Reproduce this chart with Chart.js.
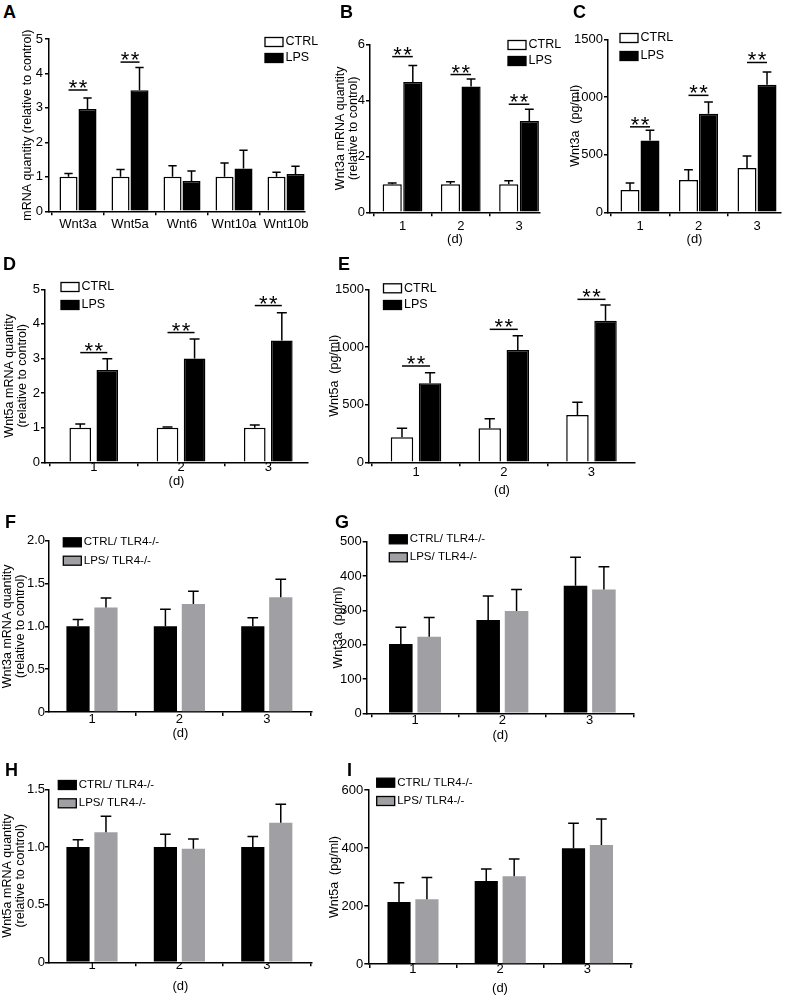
<!DOCTYPE html>
<html>
<head>
<meta charset="utf-8">
<title>Wnt3a / Wnt5a after LPS</title>
<script src="https://cdn.jsdelivr.net/npm/chart.js@4.4.1/dist/chart.umd.min.js"></script>
<style>
  html, body { margin: 0; padding: 0; background: #fff; }
  #fig { position: relative; width: 787px; height: 995px; overflow: hidden; background: #fff; }
  #fig canvas { position: absolute; }
  .panel-letter { position: absolute; font: bold 18px/18px "Liberation Sans", Arial, sans-serif; color: #000; }
</style>
</head>
<body>
<div id="fig"></div>
<script>
// values (mean and upper SEM)
const genes = ['Wnt3a', 'Wnt5a', 'Wnt6', 'Wnt10a', 'Wnt10b'];
const days = ['1', '2', '3'];
const wtNames = ['CTRL', 'LPS'];
const koNames = ['CTRL/ TLR4-/-', 'LPS/ TLR4-/-'];

// A - mRNA of several Wnts
const aCtrl = [1.0, 1.0, 1.0, 1.0, 1.0];
const aCtrlErr = [0.10, 0.21, 0.32, 0.40, 0.13];
const aLps = [2.97, 3.51, 0.88, 1.24, 1.08];
const aLpsErr = [0.32, 0.66, 0.29, 0.53, 0.23];
const aSig = [3.52, 4.33, null, null, null];

// B - Wnt3a mRNA by day
const bCtrl = [1.0, 1.0, 1.0];
const bCtrlErr = [0.05, 0.09, 0.13];
const bLps = [4.65, 4.49, 3.26];
const bLpsErr = [0.59, 0.27, 0.42];
const bSig = [5.56, 4.92, 3.86];

// C - Wnt3a protein (pg/ml)
const cCtrl = [194, 279, 384];
const cCtrlErr = [59, 90, 104];
const cLps = [622, 854, 1107];
const cLpsErr = [89, 102, 110];
const cSig = [741, 1014, 1299];

// D - Wnt5a mRNA by day
const dCtrl = [1.0, 1.0, 1.0];
const dCtrlErr = [0.11, 0.02, 0.08];
const dLps = [2.67, 3.0, 3.52];
const dLpsErr = [0.32, 0.56, 0.80];
const dSig = [3.17, 3.75, 4.53];

// E - Wnt5a protein (pg/ml)
const eCtrl = [217, 295, 410];
const eCtrlErr = [78, 83, 110];
const eLps = [685, 974, 1228];
const eLpsErr = [92, 124, 136];
const eSig = [835, 1153, 1413];

// F - Wnt3a mRNA, TLR4-/-
const fCtrl = [1.0, 1.0, 1.0];
const fCtrlErr = [0.08, 0.20, 0.10];
const fLps = [1.22, 1.26, 1.34];
const fLpsErr = [0.11, 0.15, 0.21];

// G - Wnt3a protein, TLR4-/-
const gCtrl = [202, 272, 372];
const gCtrlErr = [49, 70, 83];
const gLps = [223, 298, 361];
const gLpsErr = [56, 63, 66];

// H - Wnt5a mRNA, TLR4-/-
const hCtrl = [1.0, 1.0, 1.0];
const hCtrlErr = [0.063, 0.11, 0.09];
const hLps = [1.127, 0.985, 1.21];
const hLpsErr = [0.14, 0.085, 0.16];

// I - Wnt5a protein, TLR4-/-
const iCtrl = [214, 286, 399];
const iCtrlErr = [66, 42, 86];
const iLps = [223, 303, 410];
const iLpsErr = [75, 59, 90];

Chart.defaults.font.family = '"Liberation Sans", Arial, Helvetica, sans-serif';
Chart.defaults.color = '#000';

const wtStyle = [
    {bg: '#ffffff', line: '#000000', bw: 1.5},
    {bg: '#000000', line: '#000000', bw: 1.5}
];
const koStyle = [
    {bg: '#000000', line: '#000000', bw: 0},
    {bg: '#a0a0a4', line: '#a0a0a4', bw: 0}
];

const plain = v => String(v);
const oneDec = v => v === 0 ? '0' : v.toFixed(1);
const mrna3 = ['Wnt3a mRNA quantity', '(relative to control)'];
const mrna5 = ['Wnt5a mRNA quantity', '(relative to control)'];

// geometry is in page pixels: y axis at x0, x axis end x1, top tick yTop, zero line y0
const panels = [
    {letter: 'A', lx: 3, ly: 5, cats: genes, names: wtNames, style: wtStyle,
     vals: [aCtrl, aLps], errs: [aCtrlErr, aLpsErr], sig: aSig,
     yTitle: 'mRNA quantity (relative to control)', xTitle: '', yMax: 5, yStep: 1, fmt: plain,
     geo: {x0: 49, x1: 305, yTop: 39, y0: 211.3, xMin: 0.442, xMax: 5.365, cat: 0.73, bar: 0.95,
           yw: 28.5, xh: 30, tickPad: 1.2, yPad: 2, padR: 30},
     legend: {x: 265, y: 42, gap: 16, size: 12.5}},
    {letter: 'B', lx: 340, ly: 5, cats: days, names: wtNames, style: wtStyle,
     vals: [bCtrl, bLps], errs: [bCtrlErr, bLpsErr], sig: bSig,
     yTitle: mrna3, xTitle: '(d)', yMax: 6, yStep: 2, fmt: plain,
     geo: {x0: 370, x1: 540, yTop: 44.3, y0: 212.3, xMin: 0.442, xMax: 3.36, cat: 0.707, bar: 0.93,
           yw: 36.25, xh: 33.2, tickPad: 2.6, yPad: 1, padR: 30},
     legend: {x: 508, y: 45, gap: 16, size: 12.5}},
    {letter: 'C', lx: 573, ly: 5, cats: days, names: wtNames, style: wtStyle,
     vals: [cCtrl, cLps], errs: [cCtrlErr, cLpsErr], sig: cSig,
     yTitle: 'Wnt3a  (pg/ml)', xTitle: '(d)', yMax: 1500, yStep: 500, fmt: plain,
     geo: {x0: 608, x1: 781, yTop: 39.3, y0: 212.3, xMin: 0.453, xMax: 3.41, cat: 0.684, bar: 0.95,
           yw: 39.5, xh: 33.2, tickPad: 2.6, yPad: 1, padR: 5},
     legend: {x: 620, y: 38, gap: 18, size: 12.5}},
    {letter: 'D', lx: 3, ly: 257.5, cats: days, names: wtNames, style: wtStyle,
     vals: [dCtrl, dLps], errs: [dCtrlErr, dLpsErr], sig: dSig,
     yTitle: mrna5, xTitle: '(d)', yMax: 5, yStep: 1, fmt: plain,
     geo: {x0: 45, x1: 308, yTop: 289.3, y0: 462.3, xMin: 0.441, xMax: 3.455, cat: 0.62, bar: 0.8,
           yw: 42.3, xh: 25.2, tickPad: -6.6, yPad: 1, padR: 10},
     legend: {x: 61, y: 287, gap: 18, size: 12.5}},
    {letter: 'E', lx: 338, ly: 257.5, cats: days, names: wtNames, style: wtStyle,
     vals: [eCtrl, eLps], errs: [eCtrlErr, eLpsErr], sig: eSig,
     yTitle: 'Wnt5a  (pg/ml)', xTitle: '(d)', yMax: 1500, yStep: 500, fmt: plain,
     geo: {x0: 369, x1: 635, yTop: 289.3, y0: 462.3, xMin: 0.464, xMax: 3.496, cat: 0.64, bar: 0.8,
           yw: 41.5, xh: 34.2, tickPad: -1.6, yPad: 1, padR: 10},
     legend: {x: 383.5, y: 288.3, gap: 16.7, size: 12.5}},
    {letter: 'F', lx: 5, ly: 515, cats: days, names: koNames, style: koStyle,
     vals: [fCtrl, fLps], errs: [fCtrlErr, fLpsErr], sig: null,
     yTitle: mrna3, xTitle: '(d)', yMax: 2, yStep: 0.5, fmt: oneDec,
     geo: {x0: 49, x1: 311.7, yTop: 540.7, y0: 712, xMin: 0.508, xMax: 3.514, cat: 0.64, bar: 0.83,
           yw: 47.7, xh: 27.5, tickPad: -4.8, yPad: 0, padR: 10},
     legend: {x: 63.3, y: 542.3, gap: 18.4, size: 11.5}},
    {letter: 'G', lx: 335, ly: 515, cats: days, names: koNames, style: koStyle,
     vals: [gCtrl, gLps], errs: [gCtrlErr, gLpsErr], sig: null,
     yTitle: 'Wnt3a  (pg/ml)', xTitle: '(d)', yMax: 500, yStep: 100, fmt: plain,
     geo: {x0: 366.7, x1: 634, yTop: 541.7, y0: 713.3, xMin: 0.447, xMax: 3.507, cat: 0.65, bar: 0.83,
           yw: 35.2, xh: 28.2, tickPad: -5.1, yPad: 1, padR: 10},
     legend: {x: 389.3, y: 539.3, gap: 18, size: 11.5}},
    {letter: 'H', lx: 5, ly: 763, cats: days, names: koNames, style: koStyle,
     vals: [hCtrl, hLps], errs: [hCtrlErr, hLpsErr], sig: null,
     yTitle: mrna5, xTitle: '(d)', yMax: 1.5, yStep: 0.5, fmt: oneDec,
     geo: {x0: 49, x1: 311.7, yTop: 789.3, y0: 962.3, xMin: 0.508, xMax: 3.514, cat: 0.64, bar: 0.83,
           yw: 48.5, xh: 30.9, tickPad: -9.1, yPad: 0, padR: 10},
     legend: {x: 58.3, y: 785, gap: 18.3, size: 11.5}},
    {letter: 'I', lx: 347, ly: 763, cats: days, names: koNames, style: koStyle,
     vals: [iCtrl, iLps], errs: [iCtrlErr, iLpsErr], sig: null,
     yTitle: 'Wnt5a  (pg/ml)', xTitle: '(d)', yMax: 600, yStep: 200, fmt: plain,
     geo: {x0: 368.3, x1: 631.7, yTop: 790, y0: 964, xMin: 0.488, xMax: 3.507, cat: 0.64, bar: 0.83,
           yw: 40.8, xh: 30.8, tickPad: -6.8, yPad: 1, padR: 10},
     legend: {x: 376.7, y: 782.7, gap: 18.3, size: 11.5}}
];

// upward-only error bars, GraphPad style
const errorBars = {
    id: 'errorBars',
    afterDatasetsDraw(chart) {
        const ctx = chart.ctx;
        const y = chart.scales.y;
        ctx.save();
        ctx.strokeStyle = '#000';
        ctx.lineWidth = 1.5;
        chart.data.datasets.forEach((ds, k) => {
            chart.getDatasetMeta(k).data.forEach((bar, i) => {
                const top = y.getPixelForValue(ds.data[i].y + ds.errs[i]);
                const half = bar.width * 0.23;
                ctx.beginPath();
                ctx.moveTo(bar.x, bar.y);
                ctx.lineTo(bar.x, top);
                ctx.moveTo(bar.x - half, top);
                ctx.lineTo(bar.x + half, top);
                ctx.stroke();
            });
        });
        ctx.restore();
    }
};

// "**" over a line joining the two bars of a group
const sigBars = {
    id: 'sigBars',
    afterDatasetsDraw(chart, args, opts) {
        if (!opts.levels) return;
        const ctx = chart.ctx;
        const y = chart.scales.y;
        const a = chart.getDatasetMeta(0).data;
        const b = chart.getDatasetMeta(1).data;
        ctx.save();
        ctx.strokeStyle = '#000';
        ctx.fillStyle = '#000';
        ctx.lineWidth = 1.5;
        ctx.font = '22px "Liberation Sans", Arial, sans-serif';
        ctx.textAlign = 'center';
        ctx.textBaseline = 'alphabetic';
        opts.levels.forEach((lv, i) => {
            if (lv == null) return;
            const py = y.getPixelForValue(lv);
            ctx.beginPath();
            ctx.moveTo(a[i].x, py);
            ctx.lineTo(b[i].x, py);
            ctx.stroke();
            const cx = (a[i].x + b[i].x) / 2;
            ctx.fillText('*', cx - 5, py + 5);
            ctx.fillText('*', cx + 5, py + 5);
        });
        ctx.restore();
    }
};

// small box legend placed freely
const boxLegend = {
    id: 'boxLegend',
    afterDraw(chart, args, o) {
        const ctx = chart.ctx;
        ctx.save();
        ctx.font = o.size + 'px "Liberation Sans", Arial, sans-serif';
        ctx.textBaseline = 'middle';
        ctx.textAlign = 'left';
        chart.data.datasets.forEach((ds, k) => {
            const cy = o.y + k * o.gap;
            ctx.fillStyle = ds.backgroundColor;
            ctx.fillRect(o.x, cy - 4.5, 18, 9);
            ctx.strokeStyle = '#000';
            ctx.lineWidth = 1.3;
            ctx.strokeRect(o.x, cy - 4.5, 18, 9);
            ctx.fillStyle = '#000';
            ctx.fillText(ds.label, o.x + 20.5, cy);
        });
        ctx.restore();
    }
};

const fig = document.getElementById('fig');

build_panel = function (p) {
    const g = p.geo;
    const padTop = 26;
    const left = Math.round(g.x0 - g.yw);
    const top = Math.round(g.yTop - padTop);
    const yw = g.x0 - left;
    const pt = g.yTop - top;
    const plotW = g.x1 - g.x0;
    const plotH = g.y0 - g.yTop;
    const w = Math.ceil(yw + plotW + g.padR);
    const h = Math.ceil(pt + plotH + g.xh);

    const cv = document.createElement('canvas');
    cv.width = w;
    cv.height = h;
    cv.style.left = left + 'px';
    cv.style.top = top + 'px';
    fig.appendChild(cv);

    new Chart(cv, {
        type: 'bar',
        data: {
            datasets: p.vals.map((v, k) => ({
                label: p.names[k],
                data: v.map((val, i) => ({x: i + 1, y: val})),
                errs: p.errs[k],
                backgroundColor: p.style[k].bg,
                borderColor: p.style[k].line,
                borderWidth: p.style[k].bw,
                borderSkipped: 'start',
                categoryPercentage: g.cat,
                barPercentage: g.bar
            }))
        },
        options: {
            responsive: false,
            animation: false,
            devicePixelRatio: 1,
            events: [],
            layout: {padding: {left: 0, top: pt, right: w - yw - plotW, bottom: h - pt - plotH - g.xh}},
            plugins: {
                legend: {display: false},
                tooltip: {enabled: false},
                sigBars: {levels: p.sig},
                boxLegend: {x: p.legend.x - left, y: p.legend.y - top, gap: p.legend.gap, size: p.legend.size}
            },
            scales: {
                x: {
                    type: 'linear',
                    min: g.xMin,
                    max: g.xMax,
                    offset: false,
                    afterBuildTicks: s => { s.ticks = p.cats.map((c, i) => ({value: i + 1})); },
                    afterFit: s => { s.height = g.xh; },
                    grid: {drawOnChartArea: false, drawTicks: true, tickLength: 4, color: '#000', lineWidth: 1.5},
                    border: {color: '#000', width: 1.5},
                    ticks: {
                        autoSkip: false, maxRotation: 0, minRotation: 0,
                        padding: g.tickPad, color: '#000', font: {size: 13},
                        callback: (v, i) => p.cats[i]
                    },
                    title: {display: p.xTitle !== '', text: p.xTitle, padding: 0, color: '#000', font: {size: 13, lineHeight: 1}}
                },
                y: {
                    min: 0,
                    max: p.yMax,
                    afterFit: s => { s.width = yw; },
                    grid: {drawOnChartArea: false, drawTicks: true, tickLength: 4, color: '#000', lineWidth: 1.5},
                    border: {color: '#000', width: 1.5},
                    ticks: {stepSize: p.yStep, padding: g.yPad, color: '#000', font: {size: 13}, callback: v => p.fmt(v)},
                    title: {display: true, text: p.yTitle, padding: 0, color: '#000', font: {size: 12.5, lineHeight: 1.04}}
                }
            }
        },
        plugins: [errorBars, sigBars, boxLegend]
    });

    const lab = document.createElement('div');
    lab.className = 'panel-letter';
    lab.textContent = p.letter;
    lab.style.left = p.lx + 'px';
    lab.style.top = (p.ly - 2.3) + 'px';
    fig.appendChild(lab);
}

panels.forEach(p => build_panel(p));
</script>
</body>
</html>
